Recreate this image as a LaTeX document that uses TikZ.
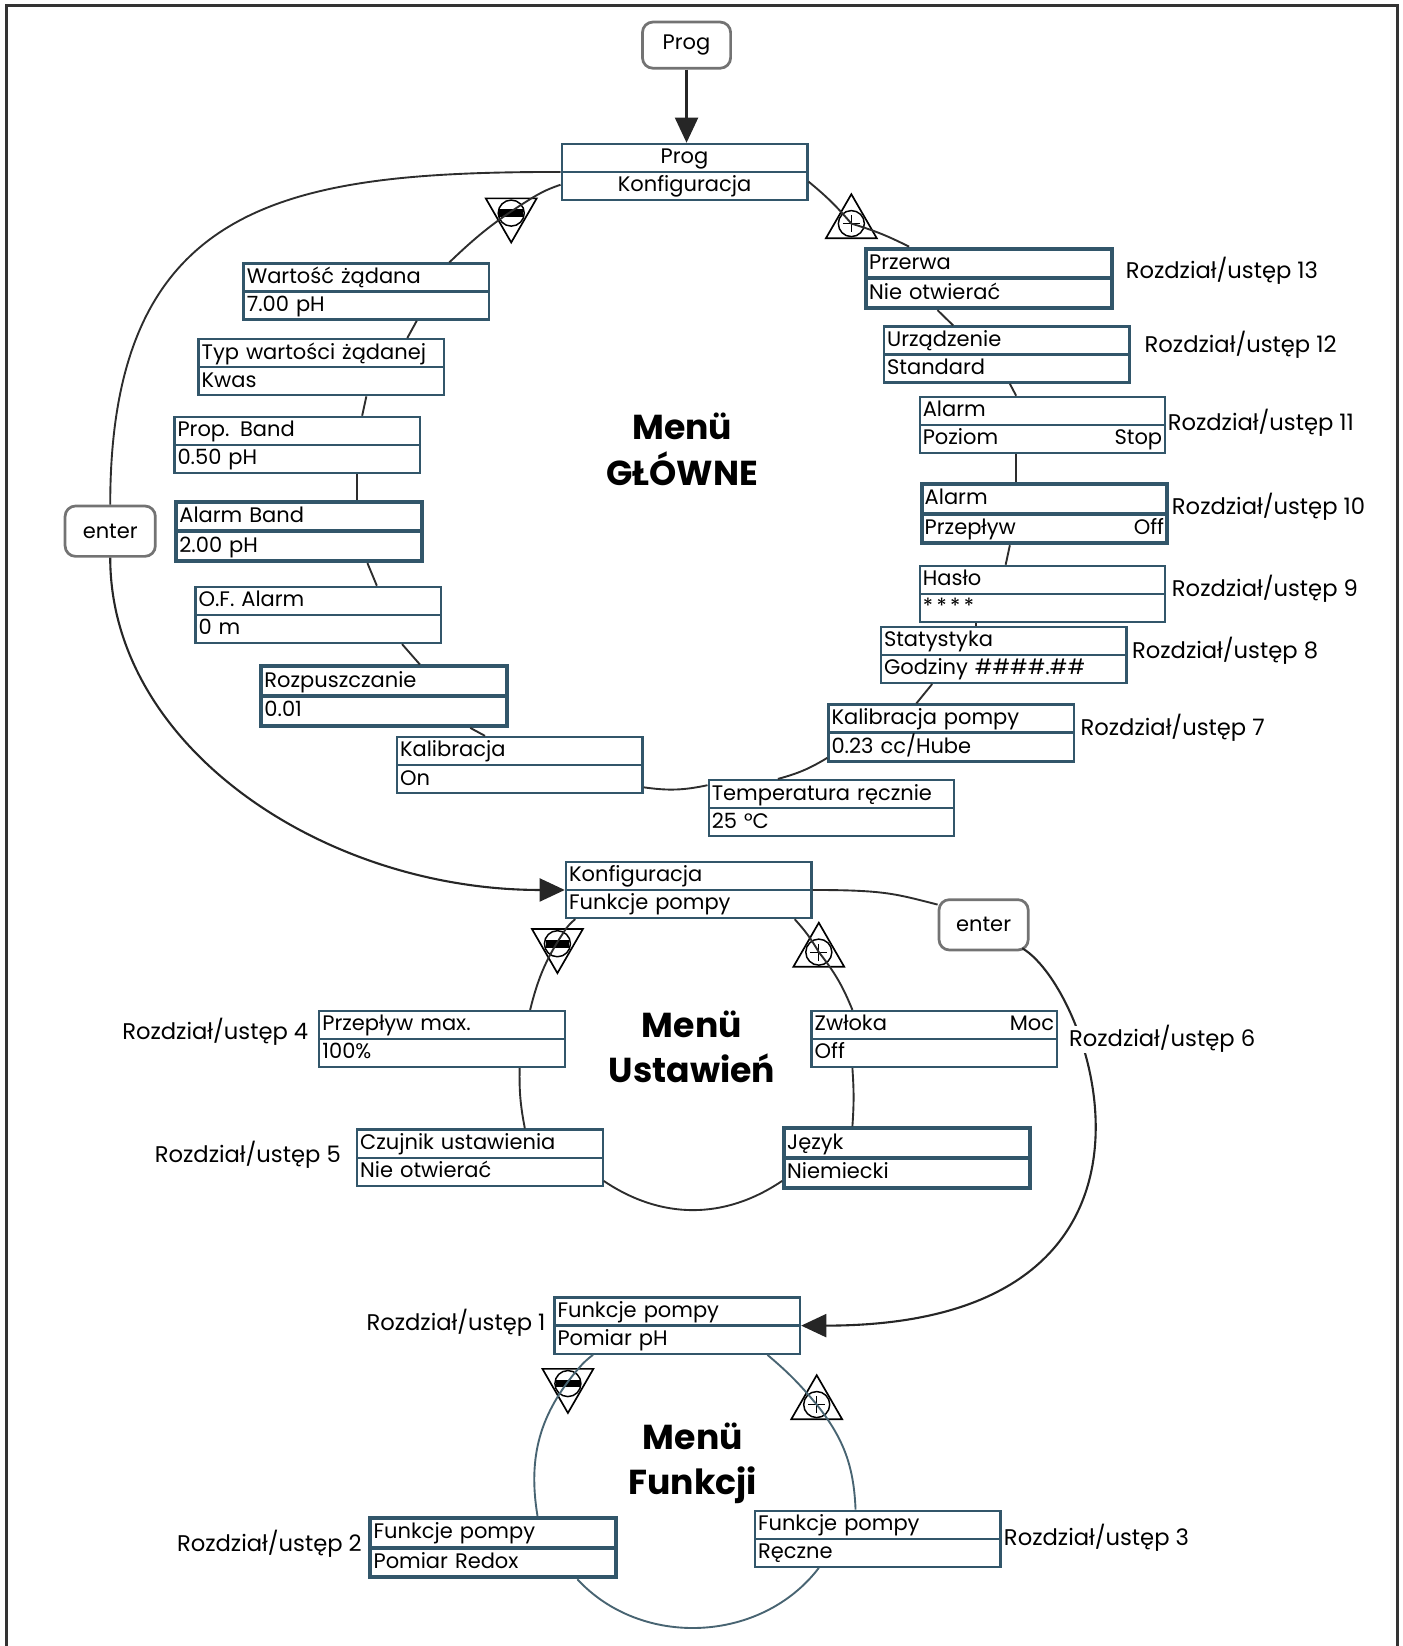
\documentclass[tikz,border=0pt]{standalone}
\usepackage{fontspec}
\setmainfont{Poppins}
\usetikzlibrary{shapes.multipart,shapes.geometric,arrows.meta,calc}
\definecolor{boxc}{RGB}{50,86,106}
\definecolor{ringc}{RGB}{45,45,45}
\definecolor{ringb}{RGB}{72,100,114}
\definecolor{btnc}{RGB}{115,115,115}
\newcommand\bfnt{\fontsize{10}{11.5}\selectfont}
\newcommand\lfnt{\fontsize{10.8}{12}\selectfont}
\newcommand\tfnt{\fontsize{16.5}{21.5}\selectfont\bfseries}
\newcommand\bst{\rule[-3.3pt]{0pt}{12.25pt}}
\newcommand\bx[2]{\bst#1\nodepart{two}\bst#2}
\begin{document}
\begin{tikzpicture}[x=0.5pt,y=-0.5pt,
  box/.style={rectangle split, rectangle split parts=2, draw=boxc, line width=1.1pt,
    fill=white, text width=114pt, align=left, inner xsep=1.5pt, inner ysep=0pt,
    font=\bfnt, anchor=north west},
  cbox/.style={box, align=center},
  tbox/.style={box, line width=1.9pt},
  lbl/.style={font=\lfnt, inner sep=0pt},
  btn/.style={draw=btnc, line width=1.3pt, rounded corners=5pt, fill=white,
    minimum width=42pt, minimum height=22pt, inner sep=0pt, font=\bfnt},
  ttl/.style={font=\tfnt, align=center, inner sep=0pt},
  mtri/.style={regular polygon, regular polygon sides=3, shape border rotate=180,
    draw=black, line width=0.8pt, minimum size=28pt, inner sep=0pt},
  ptri/.style={regular polygon, regular polygon sides=3,
    draw=black, line width=0.8pt, minimum size=28pt, inner sep=0pt},
  ring/.style={draw=ringc, line width=0.9pt},
  ringbl/.style={draw=ringb, line width=0.9pt},
  arr/.style={draw=black!85, line width=1pt, -{Triangle[length=12pt,width=11pt]}}
]
\useasboundingbox (0,0) rectangle (1336,1568);
\draw[line width=1.4pt, black!80] (6,1575) -- (6,5) -- (1331,5) -- (1331,1575);

% ---------- main menu ----------
\node[btn] (progbtn) at (654,43) {Prog};
\node[cbox] (prog) at (534,136) {\bx{Prog}{Konfiguracja}};
\node[box] (wart) at (231,250) {\bx{Wartość żądana}{7.00 pH}};
\node[box] (typ) at (188,322) {\bx{Typ wartości żądanej}{Kwas}};
\node[box] (prop) at (165,396) {\bx{Prop. Band}{0.50 pH}};
\node[tbox] (aband) at (166,476) {\bx{Alarm Band}{2.00 pH}};
\node[box] (ofa) at (185,558) {\bx{O.F. Alarm}{0 m}};
\node[tbox] (rozp) at (247,633) {\bx{Rozpuszczanie}{0.01}};
\node[box] (kal) at (377,701) {\bx{Kalibracja}{On}};
\node[box] (temp) at (674,742) {\bx{Temperatura ręcznie}{25 °C}};
\node[box] (kalp) at (788,670) {\bx{Kalibracja pompy}{0.23 cc/Hube}};
\node[box] (stat) at (838,596) {\bx{Statystyka}{Godziny \#\#\#\#.\#\#}};
\node[box] (haslo) at (875,538) {\bx{Hasło}{*\,*\,*\,*}};
\node[tbox] (aprz) at (876,459) {\bx{Alarm}{Przepływ\hfill Off}};
\node[box] (apoz) at (875,377) {\bx{Alarm}{Poziom\hfill Stop}};
\node[box] (urz) at (841,310) {\bx{Urządzenie}{Standard}};
\node[tbox] (przerwa) at (823,235) {\bx{Przerwa}{Nie otwierać}};

\node[mtri] (mt1) at (487,203) {};
\node[ptri] (pt1) at (811,213) {};

\node[ttl] (t1) at (650,428) {Menü\\GŁÓWNE};

\node[lbl, anchor=west] (r13) at (1072,258) {Rozdział/ustęp 13};
\node[lbl, anchor=west] (r12) at (1090,328) {Rozdział/ustęp 12};
\node[lbl, anchor=west] (r11) at (1112,403) {Rozdział/ustęp 11};
\node[lbl, anchor=west] (r10) at (1116,483) {Rozdział/ustęp 10};
\node[lbl, anchor=west] (r9) at (1116,561) {Rozdział/ustęp 9};
\node[lbl, anchor=west] (r8) at (1078,620) {Rozdział/ustęp 8};
\node[lbl, anchor=west] (r7) at (1029,693) {Rozdział/ustęp 7};

\node[btn, minimum width=43pt, minimum height=24pt] (enter1) at (105,506) {enter};

% ---------- settings menu ----------
\node[box] (konf2) at (538,820) {\bx{Konfiguracja}{Funkcje pompy}};
\node[box] (przmax) at (303,962) {\bx{Przepływ max.}{100\%}};
\node[box] (czuj) at (339,1075) {\bx{Czujnik ustawienia}{Nie otwierać}};
\node[box] (zwloka) at (772,962) {\bx{Zwłoka\hfill Moc}{Off}};
\node[tbox] (jezyk) at (745,1073) {\bx{Język}{Niemiecki}};
\node[mtri] (mt2) at (531,899) {};
\node[ptri] (pt2) at (780,907) {};
\node[ttl] (t2) at (659,997) {Menü\\Ustawień};
\node[btn, minimum width=42.5pt, minimum height=24pt] (enter2) at (937,881) {enter};

\node[lbl, anchor=east] (r4) at (294,983) {Rozdział/ustęp 4};
\node[lbl, anchor=east] (r5) at (325,1100) {Rozdział/ustęp 5};

% ---------- function menu ----------
\node[box] (func) at (527,1235) {\bx{Funkcje pompy}{Pomiar pH}};
\node[tbox] (redox) at (351,1444) {\bx{Funkcje pompy}{Pomiar Redox}};
\node[box] (reczne) at (718,1438) {\bx{Funkcje pompy}{Ręczne}};
\node[mtri] (mt3) at (541,1318) {};
\node[ptri] (pt3) at (778,1338) {};
\node[ttl] (t3) at (660,1394) {Menü\\Funkcji};

\node[lbl, anchor=east] (r1) at (520,1260) {Rozdział/ustęp 1};
\node[lbl, anchor=east] (r2) at (345,1471) {Rozdział/ustęp 2};
\node[lbl, anchor=west] (r3) at (956,1465) {Rozdział/ustęp 3};

% ---------- triangle symbols ----------
\foreach \t in {mt1,mt2,mt3}{
  \draw[line width=0.7pt] (\t.center) circle[radius=6.2pt];
  \fill (\t.center) +(-5.6pt,-1.8pt) rectangle +(5.6pt,1.8pt);
}
\foreach \t in {pt1,pt2,pt3}{
  \draw[line width=0.7pt] (\t.center) circle[radius=6.2pt];
  \draw[line width=0.5pt] (\t.center) +(-4pt,0) -- +(4pt,0) (\t.center) +(0,-4pt) -- +(0,4pt);
}

% ---------- main ring ----------
\draw[ring] ($(prog.north west)+(0,40)$) to[bend right=6] (mt1) to[bend right=6] ($(wart.north west)+(197,0)$);
\draw[ring] ($(wart.south west)+(166,0)$) -- ($(typ.north west)+(200,0)$);
\draw[ring] ($(typ.south west)+(161,0)$) -- ($(prop.north west)+(180,0)$);
\draw[ring] ($(prop.south west)+(175,0)$) -- ($(aband.north west)+(174,0)$);
\draw[ring] ($(aband.south west)+(184,0)$) -- ($(ofa.north west)+(174,0)$);
\draw[ring] ($(ofa.south west)+(198,0)$) -- ($(rozp.north west)+(153,0)$);
\draw[ring] ($(rozp.south west)+(201,0)$) -- ($(kal.north west)+(85,0)$);
\draw[ring] ($(kal.north east)+(0,49)$) to[bend right=10] ($(temp.north west)+(0,6)$);
\draw[ring] ($(temp.north west)+(67,0)$) to[bend right=8] ($(kalp.north west)+(0,52)$);
\draw[ring] ($(kalp.north west)+(85,0)$) -- ($(stat.south west)+(50,0)$);
\draw[ring] ($(stat.north west)+(92,0)$) -- ($(haslo.south west)+(55,0)$);
\draw[ring] ($(haslo.north west)+(83,0)$) -- ($(aprz.south west)+(86,0)$);
\draw[ring] ($(aprz.north west)+(92,0)$) -- ($(apoz.south west)+(93,0)$);
\draw[ring] ($(apoz.north west)+(93,0)$) -- ($(urz.south west)+(121,0)$);
\draw[ring] ($(urz.north west)+(67,0)$) -- ($(przerwa.south west)+(70,0)$);
\draw[ring] ($(przerwa.north west)+(43,0)$) to[bend right=5] (pt1.center) to[bend right=5] ($(prog.north east)+(0,37)$);

% ---------- settings ring ----------
\draw[ring] ($(konf2.south west)+(10,0)$) to[bend right=6] (mt2) to[bend right=10] ($(przmax.north west)+(202,0)$);
\draw[ring] ($(przmax.south west)+(192,0)$) to[bend right=6] ($(czuj.north west)+(161,0)$);
\draw[ring] ($(czuj.north east)+(0,50)$) to[bend right=34] ($(jezyk.north west)+(0,52)$);
\draw[ring] ($(jezyk.north west)+(67,0)$) to[bend right=4] ($(zwloka.south west)+(40,0)$);
\draw[ring] ($(zwloka.north west)+(40,0)$) to[bend right=8] (pt2.center) to[bend right=6] ($(konf2.south west)+(219,0)$);

% ---------- function ring ----------
\draw[ringbl] ($(func.south west)+(38,0)$) to[bend right=6] (mt3) to[bend right=25] ($(redox.north west)+(161,0)$);
\draw[ringbl] ($(redox.south west)+(199,0)$) to[bend right=50] ($(reczne.south west)+(62,0)$);
\draw[ringbl] ($(reczne.north west)+(97,0)$) to[bend right=18] (pt3.center) to[bend right=5] ($(func.south west)+(204,0)$);

% ---------- connectors ----------
\draw[arr] (progbtn.south) -- (prog.north -| progbtn.south);
\draw[ring] (prog.west) .. controls +(-260,0) and +(0,-290) .. (enter1.north);
\draw[arr] (enter1.south) .. controls +(0,180) and +(-230,0) .. (konf2.west);
\draw[ring] (konf2.east) .. controls +(70,0) and +(-40,-10) .. ($(enter2.north west)+(0,6)$);
\draw[arr] ($(enter2.south east)+(-7,-3)$) .. controls +(68,40) and +(388,0) .. (func.east);

\node[lbl, anchor=west, fill=white, inner xsep=1pt] (r6) at (1016,990) {Rozdział/ustęp 6};
\end{tikzpicture}
\end{document}
